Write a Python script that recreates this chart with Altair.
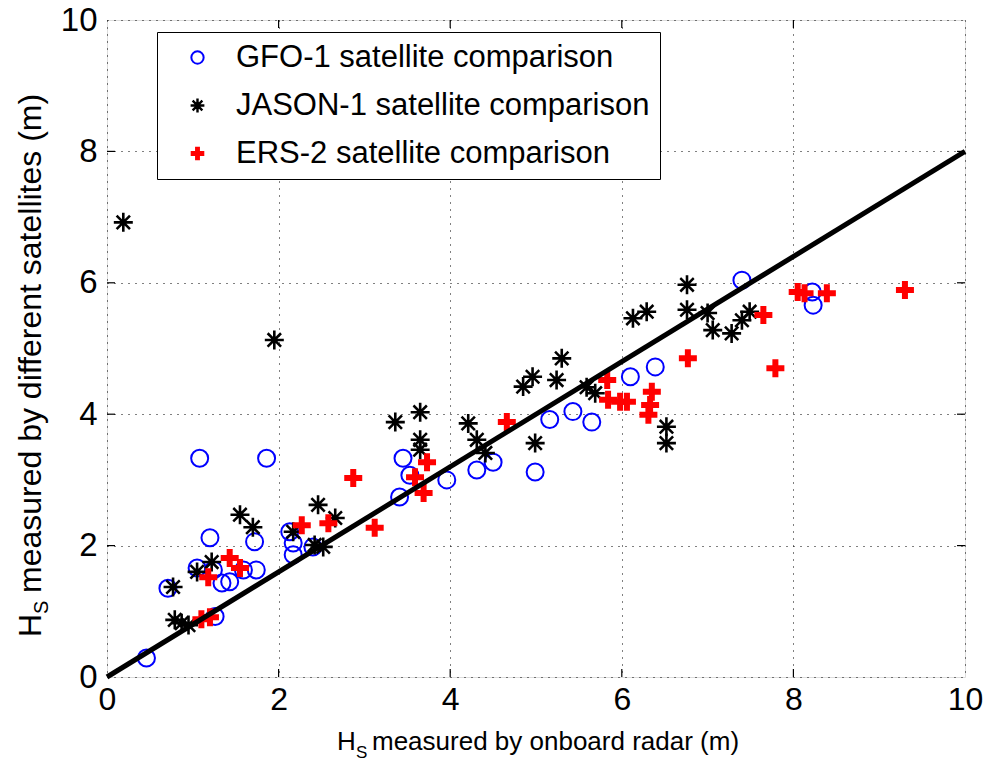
import altair as alt
import pandas as pd

# ---------------- data ----------------
series_names = ["GFO-1 satellite comparison", "JASON-1 satellite comparison", "ERS-2 satellite comparison"]

gfo_x = [0.46, 1.08, 1.86, 1.20, 1.72, 0.71, 1.05, 1.24, 1.34, 1.43, 1.59, 1.74, 1.26,
         2.13, 2.17, 2.17, 2.40, 3.45, 3.53, 3.41, 3.96, 4.31, 4.50, 4.99, 5.16, 5.43,
         5.65, 6.10, 6.39, 7.40, 8.22, 8.23]
gfo_y = [0.29, 3.33, 3.33, 2.12, 2.06, 1.35, 1.66, 1.63, 1.43, 1.45, 1.63, 1.63, 0.92,
         2.21, 2.04, 1.86, 1.98, 3.33, 3.07, 2.74, 3.00, 3.15, 3.27, 3.12, 3.92, 4.04,
         3.88, 4.57, 4.72, 6.04, 5.86, 5.66]

jason_x = [0.19, 1.95, 0.77, 0.79, 0.87, 0.95, 1.05, 1.22, 1.55, 1.70, 2.17, 2.46, 2.66,
           2.42, 2.52, 3.36, 3.65, 3.65, 3.65, 4.21, 4.31, 4.41, 4.99, 4.85, 4.96, 5.24,
           5.30, 5.59, 5.69, 6.52, 6.52, 6.13, 6.29, 6.76, 6.76, 7.00, 7.06, 7.28, 7.40, 7.49]
jason_y = [6.92, 5.13, 1.37, 0.87, 0.82, 0.79, 1.60, 1.75, 2.47, 2.28, 2.21, 2.62, 2.42,
           2.01, 1.98, 3.88, 4.03, 3.61, 3.46, 3.86, 3.61, 3.41, 3.56, 4.42, 4.57, 4.52,
           4.85, 4.41, 4.32, 3.81, 3.56, 5.46, 5.56, 5.97, 5.59, 5.54, 5.28, 5.23, 5.43, 5.56]

ers_x = [1.10, 1.20, 1.18, 1.43, 1.55, 2.27, 2.58, 2.87, 3.12, 3.73, 3.59, 3.69, 4.66,
         5.83, 5.84, 5.98, 6.06, 6.35, 6.33, 6.31, 6.77, 7.65, 7.79, 8.05, 8.13, 8.39, 9.30]
ers_y = [0.88, 0.91, 1.52, 1.81, 1.66, 2.31, 2.34, 3.03, 2.27, 3.27, 3.04, 2.80, 3.88,
         4.52, 4.22, 4.19, 4.19, 4.34, 4.14, 3.99, 4.85, 5.51, 4.70, 5.86, 5.84, 5.84, 5.89]

fit_x = [0, 10]
fit_y = [0, 8]

tick_values = [0, 2, 4, 6, 8, 10]
inner_ticks = [2, 4, 6, 8]

# ---------------- tables ----------------
df = pd.concat([
    pd.DataFrame({"x": gfo_x, "y": gfo_y, "series": series_names[0]}),
    pd.DataFrame({"x": jason_x, "y": jason_y, "series": series_names[1]}),
    pd.DataFrame({"x": ers_x, "y": ers_y, "series": series_names[2]}),
], ignore_index=True)
fit_df = pd.DataFrame({"x": fit_x, "y": fit_y})
tick_df = pd.DataFrame({"v": inner_ticks})

W, H = 858, 657
FONT = "Liberation Sans, Arial, sans-serif"

CIRCLE = "M0.85,0A0.85,0.85 0 1,1 -0.85,0A0.85,0.85 0 1,1 0.85,0Z"
# asterisk: each stroke doubled with a tiny offset to make it look bolder
STAR = ("M-0.95,-0.03L0.95,-0.03M-0.95,0.03L0.95,0.03"
        "M-0.03,-0.95L-0.03,0.95M0.03,-0.95L0.03,0.95"
        "M-0.69,-0.65L0.65,0.69M-0.65,-0.69L0.69,0.65"
        "M-0.69,0.65L0.65,-0.69M-0.65,0.69L0.69,-0.65")
PLUS = "M-0.8,-0.2H-0.2V-0.8H0.2V-0.2H0.8V0.2H0.2V0.8H-0.2V0.2H-0.8Z"

xs = alt.Scale(domain=[0, 10], nice=False, zero=False)
ys = alt.Scale(domain=[0, 10], nice=False, zero=False)

legend = alt.Legend(
    orient="none", legendX=50, legendY=12, title=None,
    labelFont=FONT, labelFontSize=31, labelColor="black", labelLimit=0,
    symbolSize=210, symbolStrokeWidth=2,
    strokeColor="black", fillColor="white", padding=10,
    rowPadding=16, labelOffset=23, symbolOffset=15,
)

x_axis = alt.Axis(values=tick_values, format="d", title=None, labelFont=FONT, labelFontSize=32,
                  labelColor="black", labelPadding=7, ticks=False, tickSize=0, domain=False,
                  grid=True, gridColor="black", gridDash=[1, 6], gridWidth=1, labelFlush=False)
y_axis = alt.Axis(values=tick_values, format="d", title=None, labelFont=FONT, labelFontSize=33,
                  labelColor="black", labelPadding=10, ticks=False, tickSize=0, domain=False,
                  grid=True, gridColor="black", gridDash=[1, 6], gridWidth=1, labelFlush=False)

points = alt.Chart(df).mark_point(filled=True, size=400, opacity=1, strokeWidth=2).encode(
    x=alt.X("x:Q", scale=xs, axis=x_axis),
    y=alt.Y("y:Q", scale=ys, axis=y_axis),
    fill=alt.Fill("series:N", scale=alt.Scale(domain=series_names,
                  range=["transparent", "transparent", "#ff0000"]), legend=legend),
    stroke=alt.Stroke("series:N", scale=alt.Scale(domain=series_names,
                      range=["#0000ff", "#000000", "#ff0000"]), legend=legend),
    shape=alt.Shape("series:N", scale=alt.Scale(domain=series_names,
                    range=[CIRCLE, STAR, PLUS]), legend=legend),
)

fit = alt.Chart(fit_df).mark_line(color="black", strokeWidth=5).encode(
    x=alt.X("x:Q", scale=xs), y=alt.Y("y:Q", scale=ys))

tick_bottom = alt.Chart(tick_df).mark_rule(color="black", strokeWidth=1.2).encode(
    x=alt.X("v:Q", scale=xs), y=alt.value(H), y2=alt.value(H - 8))
tick_top = alt.Chart(tick_df).mark_rule(color="black", strokeWidth=1.2).encode(
    x=alt.X("v:Q", scale=xs), y=alt.value(0), y2=alt.value(8))
tick_left = alt.Chart(tick_df).mark_rule(color="black", strokeWidth=1.2).encode(
    y=alt.Y("v:Q", scale=ys), x=alt.value(0), x2=alt.value(8))
tick_right = alt.Chart(tick_df).mark_rule(color="black", strokeWidth=1.2).encode(
    y=alt.Y("v:Q", scale=ys), x=alt.value(W), x2=alt.value(W - 8))

# axis titles with subscript S
def txt(s, x, y, size, angle=0):
    kw = dict(text=s, align="left", baseline="alphabetic", font=FONT,
              fontSize=size, color="black")
    if angle:
        kw["angle"] = angle
    return alt.Chart().mark_text(**kw).encode(x=alt.value(x), y=alt.value(y))

XT_Y = 730
x_title = (txt("H", 230, XT_Y, 26) + txt("S", 249, XT_Y + 8, 17)
           + txt("measured by onboard radar (m)", 265, XT_Y, 26))

YT_X = -66
YT_Y = 617
y_title = (txt("H", YT_X, YT_Y, 32, 270) + txt("S", YT_X + 7, YT_Y - 23, 20, 270)
           + txt("measured by different satellites (m)", YT_X, YT_Y - 44, 32, 270))

chart = alt.layer(
    tick_bottom, tick_top, tick_left, tick_right,
    points, fit, x_title, y_title
).properties(
    width=W, height=H,
    autosize=alt.AutoSizeParams(type="none"),
    padding={"left": 107, "top": 20, "right": 19, "bottom": 87},
).configure_view(
    stroke="black", strokeWidth=1.5
).configure(background="white")

chart.save("out.html", embed_options={"renderer": "svg", "actions": False})
